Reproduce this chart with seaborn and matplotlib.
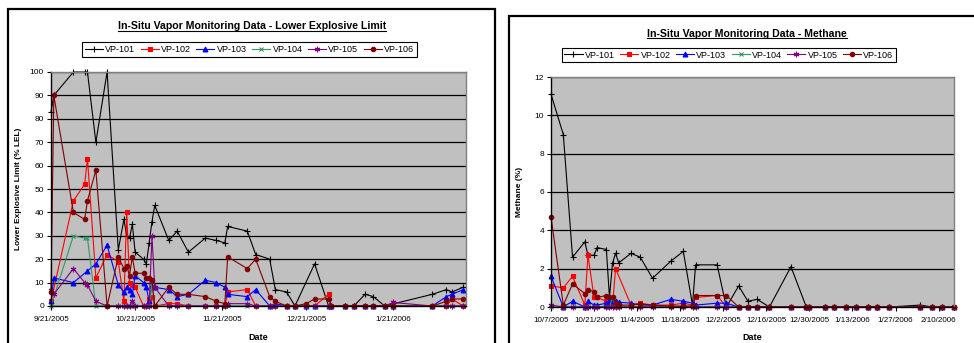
import numpy as np
import pandas as pd
import matplotlib
matplotlib.use("Agg")
import matplotlib.pyplot as plt
import seaborn as sns
from matplotlib.lines import Line2D
from matplotlib.patches import Rectangle

nan = np.nan

# ---------------- Lower Explosive Limit chart data ----------------
lel_dates = ['2005-09-21', '2005-09-22', '2005-09-29', '2005-10-03', '2005-10-04',
             '2005-10-07', '2005-10-11', '2005-10-15', '2005-10-17', '2005-10-18',
             '2005-10-19', '2005-10-20', '2005-10-21', '2005-10-24', '2005-10-25',
             '2005-10-26', '2005-10-27', '2005-10-28', '2005-11-02', '2005-11-05',
             '2005-11-09', '2005-11-15', '2005-11-19', '2005-11-22', '2005-11-23',
             '2005-11-30', '2005-12-03', '2005-12-08', '2005-12-10', '2005-12-14',
             '2005-12-17', '2005-12-21', '2005-12-24', '2005-12-29', '2005-12-30',
             '2006-01-04', '2006-01-07', '2006-01-11', '2006-01-14', '2006-01-18',
             '2006-01-21', '2006-02-04', '2006-02-09', '2006-02-11', '2006-02-15']
lel_vp101 = [83, 90, 100, 100, 100, 70, 100, 24, 37, 30, 29, 35, 23, 20, 18,
             27, 36, 43, 28, 32, 23, 29, 28, 27, 34, 32, 22, 20, 7, 6,
             0, nan, 18, 0, 0, 0, 0, 5, 4, 0, nan, 5, 7, 6, 8]
lel_vp102 = [2, nan, 45, 52, 63, 12, 22, 19, 2, 40, 10, 9, 8, 0, 0,
             3, 4, 0, 1, 1, 0, 0, 0, 0, 6, 7, 0, 0, 0, 0,
             0, 0, 0, 5, 0, 0, 0, 0, 0, 0, 0, 0, 0, 3, 0]
lel_vp103 = [2, 12, 10, nan, 15, 18, 26, 9, 6, 8, 7, 5, 13, 10, 8,
             2, 9, 8, 7, 4, 5, 11, 10, 8, 5, 4, 7, 0, 1, 0,
             0, 0, 0, 0, 0, 0, 0, 0, 0, 0, 0, 0, 4, 5, 7]
lel_vp104 = [0, nan, 30, 29, 29, 0, 0, 0, 0, 0, 0, 0, 0, 0, 0,
             0, 9, 0, 0, 0, 0, 0, 0, 0, 0, 0, 0, 0, 0, 0,
             0, 0, 0, 0, 0, 0, 0, 0, 0, 0, 0, 0, 0, 0, 0]
lel_vp105 = [7, 5, 16, 10, 9, 2, 0, 0, 0, 0, 0, 2, 0, 0, 0,
             0, 30, 8, 0, 0, 0, 0, 0, 0, 1, 1, 0, 0, 0, 0,
             0, 0, 0, 0, 0, 0, 0, 0, 0, 0, 1.5, 0, 0, 0, 0]
lel_vp106 = [6, 90, 40, 37, 45, 58, 0, 21, 16, 17, 13, 21, 14, 14, 12,
             12, 11, 0, 8, 5, 5, 4, 2, 1, 21, 16, 20, 4, 2, 0,
             0, 1, 3, 3, 0, 0, 0, 0, 0, 0, 0, 0, 2, 3, 3]
lel_xticks = ['9/21/2005', '10/21/2005', '11/21/2005', '12/21/2005', '1/21/2006']
lel_yticks = [0, 10, 20, 30, 40, 50, 60, 70, 80, 90, 100]

# ---------------- Methane chart data ----------------
ch4_dates = ['2005-10-07', '2005-10-11', '2005-10-14', '2005-10-18', '2005-10-19',
             '2005-10-21', '2005-10-22', '2005-10-25', '2005-10-26', '2005-10-27',
             '2005-10-28', '2005-10-29', '2005-11-02', '2005-11-05', '2005-11-09',
             '2005-11-15', '2005-11-19', '2005-11-22', '2005-11-23', '2005-11-30',
             '2005-12-03', '2005-12-07', '2005-12-10', '2005-12-13', '2005-12-17',
             '2005-12-24', '2005-12-29', '2005-12-30', '2006-01-04', '2006-01-07',
             '2006-01-11', '2006-01-14', '2006-01-18', '2006-01-21', '2006-01-25',
             '2006-02-04', '2006-02-08', '2006-02-11', '2006-02-15']
ch4_vp101 = [11.1, 9.0, 2.6, 3.4, 2.7, 2.7, 3.1, 3.0, 0.5, 2.3,
             2.8, 2.3, 2.8, 2.6, 1.5, 2.4, 2.9, 0.1, 2.2, 2.2,
             0.0, 1.1, 0.3, 0.4, 0.0, 2.1, 0.0, 0.0, 0.0, 0.0,
             0.0, 0.0, 0.0, 0.0, 0.0, 0.1, 0.0, 0.0, 0.0]
ch4_vp102 = [1.1, 1.0, 1.6, 0.1, 2.7, 0.5, 0.5, 0.3, 0.1, 0.1,
             2.0, nan, 0.1, 0.2, 0.1, 0.1, 0.2, 0.1, 0.5, 0.6,
             0.0, 0.0, 0.0, 0.0, 0.0, 0.0, 0.0, 0.0, 0.0, 0.0,
             0.0, 0.0, 0.0, 0.0, 0.0, 0.0, 0.0, 0.0, 0.0]
ch4_vp103 = [1.6, 0.0, 0.3, 0.0, 0.3, 0.1, 0.1, 0.2, 0.3, 0.3,
             0.3, 0.25, 0.2, 0.1, 0.1, 0.4, 0.3, 0.2, 0.1, 0.2,
             0.2, 0.0, 0.0, 0.0, 0.0, 0.0, 0.0, 0.0, 0.0, 0.0,
             0.0, 0.0, 0.0, 0.0, 0.0, 0.0, 0.0, 0.0, 0.0]
ch4_vp104 = [0.0, 0.0, 0.0, 0.0, 0.0, 0.0, 0.0, 0.0, 0.0, 0.5,
             0.0, 0.0, 0.0, 0.0, 0.0, 0.0, 0.0, 0.0, 0.0, 0.0,
             0.0, 0.0, 0.0, 0.0, 0.0, 0.0, 0.0, 0.0, 0.0, 0.0,
             0.0, 0.0, 0.0, 0.0, 0.0, 0.0, 0.0, 0.0, 0.0]
ch4_vp105 = [0.1, 0.0, 0.0, 0.0, 0.0, 0.0, 0.0, 0.0, 0.0, 0.0,
             0.0, 0.0, 0.0, 0.0, 0.0, 0.0, 0.0, 0.0, 0.0, 0.0,
             0.0, 0.0, 0.0, 0.0, 0.0, 0.0, 0.0, 0.0, 0.0, 0.0,
             0.0, 0.0, 0.0, 0.0, 0.0, 0.0, 0.0, 0.0, 0.0]
ch4_vp106 = [4.7, 0.1, 1.2, 0.7, 0.9, 0.8, 0.5, 0.6, 0.5, 0.5,
             0.2, 0.1, 0.1, 0.15, 0.1, 0.05, 0.05, 0.05, 0.6, 0.6,
             0.6, 0.0, 0.0, 0.0, 0.0, 0.0, 0.0, 0.0, 0.0, 0.0,
             0.0, 0.0, 0.0, 0.0, 0.0, 0.0, 0.0, 0.0, 0.0]
ch4_xticks = ['10/7/2005', '10/21/2005', '11/4/2005', '11/18/2005', '12/2/2005',
              '12/16/2005', '12/30/2005', '1/13/2006', '1/27/2006', '2/10/2006']
ch4_yticks = [0, 2, 4, 6, 8, 10, 12]

series_names = ['VP-101', 'VP-102', 'VP-103', 'VP-104', 'VP-105', 'VP-106']
series_colors = ['#000000', '#FF0000', '#0000FF', '#339966', '#800080', '#800000']
series_markers = ['+', 's', '^', 'x', (6, 2, 0), 'o']
series_msize = [4.5, 3.0, 3.5, 3.5, 4.0, 3.2]

# ---------------- figure ----------------
plt.rcParams['font.family'] = ['Liberation Sans', 'DejaVu Sans']
W, H = 974, 343
fig = plt.figure(figsize=(W / 100, H / 100), dpi=100)
fig.patch.set_facecolor('white')


def fx(px):
    return px / W


def fy(py):
    return 1 - py / H


# chart frames (extend past the image edges as in the reference)
fig.add_artist(Rectangle((fx(8), fy(420)), fx(495) - fx(8), fy(9) - fy(420),
                         transform=fig.transFigure, fill=False,
                         edgecolor='black', linewidth=1.6))
fig.add_artist(Rectangle((fx(509), fy(420)), fx(1100) - fx(509), fy(16) - fy(420),
                         transform=fig.transFigure, fill=False,
                         edgecolor='black', linewidth=1.6))

ax1 = fig.add_axes([fx(51), fy(306), fx(466) - fx(51), fy(72) - fy(306)])
ax2 = fig.add_axes([fx(551), fy(307), fx(954) - fx(551), fy(77) - fy(307)])


def draw_series(ax, dates, values_list):
    dts = pd.to_datetime(dates)
    for name, vals, c, m, ms in zip(series_names, values_list, series_colors,
                                    series_markers, series_msize):
        df = pd.DataFrame({'date': dts, 'value': vals}).dropna()
        sns.lineplot(data=df, x='date', y='value', ax=ax, color=c, marker=m,
                     markersize=ms, markerfacecolor=c, markeredgecolor=c,
                     markeredgewidth=0.8, linewidth=0.8, sort=False,
                     estimator=None, errorbar=None, legend=False, clip_on=False)


def style_axes(ax, yticks, xticks, xlim, ylabel, label_x):
    ax.set_facecolor('#C0C0C0')
    ax.set_ylim(yticks[0], yticks[-1])
    ax.set_yticks(yticks)
    ax.set_yticklabels([str(t) for t in yticks])
    tick_pos = pd.to_datetime(xticks, format='%m/%d/%Y')
    ax.set_xticks(tick_pos)
    ax.set_xticklabels(xticks)
    ax.set_xlim(pd.to_datetime(xlim[0]), pd.to_datetime(xlim[1]))
    ax.yaxis.grid(True, color='black', linewidth=0.9)
    ax.xaxis.grid(False)
    ax.set_axisbelow(True)
    for s in ['top', 'right']:
        ax.spines[s].set_color('#808080')
        ax.spines[s].set_linewidth(1.0)
    for s in ['left', 'bottom']:
        ax.spines[s].set_color('black')
        ax.spines[s].set_linewidth(1.0)
    ax.tick_params(axis='both', direction='out', length=3, width=0.8,
                   colors='black', labelsize=6, pad=2)
    ax.tick_params(axis='x', labelsize=5.8, pad=4)
    ax.set_ylabel(ylabel, fontsize=6, fontweight='bold')
    ax.yaxis.set_label_coords(label_x, 0.5)
    ax.set_xlabel('Date', fontsize=6.5, fontweight='bold')
    ax.xaxis.set_label_coords(0.5, -0.115)


draw_series(ax1, lel_dates, [lel_vp101, lel_vp102, lel_vp103, lel_vp104, lel_vp105, lel_vp106])
draw_series(ax2, ch4_dates, [ch4_vp101, ch4_vp102, ch4_vp103, ch4_vp104, ch4_vp105, ch4_vp106])

style_axes(ax1, lel_yticks, lel_xticks, ('2005-09-21', '2006-02-16'),
           'Lower Explosive Limit (% LEL)', -0.07)
style_axes(ax2, ch4_yticks, ch4_xticks, ('2005-10-07', '2006-02-15'),
           'Methane (%)', -0.07)

# titles
t1 = fig.text(fx(252), fy(29.3), 'In-Situ Vapor Monitoring Data - Lower Explosive Limit',
              ha='center', va='baseline', fontsize=7.6, fontweight='bold')
t2 = fig.text(fx(747), fy(36.7), 'In-Situ Vapor Monitoring Data - Methane',
              ha='center', va='baseline', fontsize=7.6, fontweight='bold')

# legends
handles = [Line2D([], [], color=c, marker=m, markersize=ms, markerfacecolor=c,
                  markeredgecolor=c, markeredgewidth=0.8, linewidth=0.8)
           for c, m, ms in zip(series_colors, series_markers, series_msize)]
for cx, cy in [(249.5, 49.5), (729, 55)]:
    leg = fig.legend(handles, series_names, loc='center', bbox_to_anchor=(fx(cx), fy(cy)),
                     ncol=6, fontsize=6.5, frameon=True, fancybox=False,
                     edgecolor='black', framealpha=1, handlelength=2.0,
                     handletextpad=0.25, columnspacing=0.6, borderpad=0.3,
                     borderaxespad=0)
    leg.get_frame().set_linewidth(0.8)

# underline titles
fig.canvas.draw()
renderer = fig.canvas.get_renderer()
for t, uy in [(t1, 31.0), (t2, 38.3)]:
    bb = t.get_window_extent(renderer)
    fig.add_artist(Line2D([bb.x0 / W, bb.x1 / W], [fy(uy), fy(uy)],
                          transform=fig.transFigure, color='black', linewidth=0.8))

fig.savefig('out.png', dpi=100)
